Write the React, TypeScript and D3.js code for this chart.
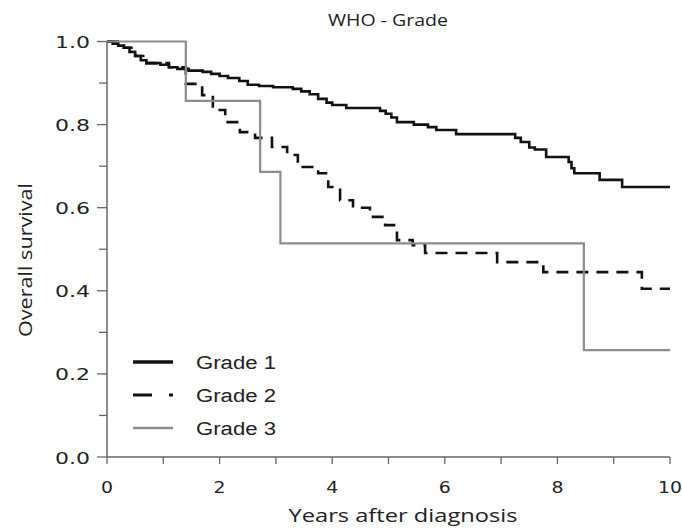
import React from 'react';
import * as d3 from 'd3';

const width = 682;
const height = 529;

// Kaplan-Meier estimates (time in years, survival)
const grade1Times = [0, 0.1, 0.2, 0.3, 0.4, 0.5, 0.6, 0.7, 0.95, 1.1, 1.25, 1.45, 1.7, 1.85, 2.0, 2.15, 2.35, 2.5, 2.7, 2.95, 3.3, 3.45, 3.6, 3.75, 3.9, 4.0, 4.25, 4.85, 4.95, 5.05, 5.15, 5.45, 5.7, 5.85, 6.2, 7.25, 7.35, 7.5, 7.6, 7.8, 8.2, 8.25, 8.3, 8.75, 9.15, 10];
const grade1Surv = [1.0, 0.995, 0.99, 0.985, 0.975, 0.965, 0.955, 0.948, 0.944, 0.938, 0.934, 0.93, 0.927, 0.922, 0.917, 0.912, 0.905, 0.896, 0.893, 0.89, 0.886, 0.88, 0.873, 0.862, 0.853, 0.847, 0.84, 0.833, 0.826, 0.817, 0.806, 0.8, 0.794, 0.787, 0.777, 0.768, 0.758, 0.745, 0.74, 0.722, 0.71, 0.695, 0.683, 0.667, 0.65, 0.65];

const grade2Times = [0, 0.3, 0.5, 0.7, 1.1, 1.4, 1.69, 1.88, 2.1, 2.36, 2.63, 2.93, 3.2, 3.39, 3.75, 3.93, 4.14, 4.37, 4.67, 4.94, 5.15, 5.43, 5.65, 6.93, 7.75, 9.5, 10];
const grade2Surv = [1.0, 0.985, 0.965, 0.948, 0.938, 0.898, 0.871, 0.835, 0.806, 0.782, 0.768, 0.746, 0.727, 0.698, 0.683, 0.65, 0.618, 0.6, 0.578, 0.558, 0.522, 0.51, 0.491, 0.469, 0.445, 0.405, 0.405];

const grade3Times = [0, 1.4, 2.72, 3.08, 8.47, 10];
const grade3Surv = [1.0, 0.857, 0.686, 0.514, 0.257, 0.257];

const legendLabels = ['Grade 1', 'Grade 2', 'Grade 3'];
const xMajor = [0, 2, 4, 6, 8, 10];
const xMinor = [1, 3, 5, 7, 9];
const yMajor = [0, 0.2, 0.4, 0.6, 0.8, 1.0];
const yMinor = [0.1, 0.3, 0.5, 0.7, 0.9];

const x = d3.scaleLinear().domain([0, 10]).range([107, 670]);
const y = d3.scaleLinear().domain([0, 1]).range([457, 41.5]);

const line = d3.line<[number, number]>()
  .x(d => x(d[0]))
  .y(d => y(d[1]))
  .curve(d3.curveStepAfter);

const zip = (t: number[], s: number[]) => t.map((v, i) => [v, s[i]] as [number, number]);

const series = [
  { name: legendLabels[0], pts: zip(grade1Times, grade1Surv), stroke: '#111', w: 2.6, dash: undefined },
  { name: legendLabels[1], pts: zip(grade2Times, grade2Surv), stroke: '#111', w: 2.6, dash: '12 8' },
  { name: legendLabels[2], pts: zip(grade3Times, grade3Surv), stroke: '#8c8c8c', w: 2.2, dash: undefined },
];

const axisColor = '#666';
const textColor = '#222';
const calibri = 'Open Sans, Lato, sans-serif';

export default function App() {
  return (
    <svg width={width} height={height}
      style={{ position: 'absolute', left: 0, top: 0, background: '#fff' }}>
      {/* title */}
      <text x={388} y={26} textAnchor="middle" fontFamily={calibri} fontSize={16}
        textLength={120} lengthAdjust="spacingAndGlyphs" fill={textColor}>WHO - Grade</text>

      {/* y axis */}
      <line x1={x(0)} x2={x(0)} y1={y(1)} y2={y(0)} stroke={axisColor} strokeWidth={1.5} />
      {yMajor.concat(yMinor).map(t => (
        <line key={'yt' + t} x1={yMajor.includes(t) ? 97 : 99} x2={x(0)} y1={y(t)} y2={y(t)}
          stroke={axisColor} strokeWidth={1.3} />
      ))}
      {yMajor.map(t => (
        <text key={'yl' + t} x={90} y={y(t) + 6.5} textAnchor="end" fontFamily="DejaVu Sans"
          fontSize={16} textLength={35} lengthAdjust="spacingAndGlyphs" fill={textColor}>
          {t.toFixed(1)}
        </text>
      ))}
      <text transform={`translate(32, 260) rotate(-90)`} textAnchor="middle" fontFamily={calibri}
        fontSize={18} textLength={154} lengthAdjust="spacingAndGlyphs" fill={textColor}>
        Overall survival
      </text>

      {/* x axis */}
      <line x1={x(0)} x2={x(10)} y1={y(0)} y2={y(0)} stroke={axisColor} strokeWidth={1.5} />
      {xMajor.concat(xMinor).map(t => (
        <line key={'xt' + t} x1={x(t)} x2={x(t)} y1={y(0)} y2={y(0) + 7}
          stroke={axisColor} strokeWidth={1.3} />
      ))}
      {xMajor.map(t => (
        <text key={'xl' + t} x={x(t)} y={493} textAnchor="middle" fontFamily="DejaVu Sans"
          fontSize={16} textLength={12 * String(t).length} lengthAdjust="spacingAndGlyphs" fill={textColor}>
          {t}
        </text>
      ))}
      <text x={403} y={522} textAnchor="middle" fontFamily={calibri} fontSize={18}
        textLength={229} lengthAdjust="spacingAndGlyphs" fill={textColor}>Years after diagnosis</text>

      {/* curves */}
      {series.map(s => (
        <path key={s.name} d={line(s.pts) ?? ''} fill="none" stroke={s.stroke}
          strokeWidth={s.w} strokeDasharray={s.dash} />
      ))}

      {/* legend */}
      {series.map((s, i) => {
        const ly = 362 + i * 33;
        return (
          <g key={'lg' + s.name}>
            <line x1={133} x2={173} y1={ly} y2={ly} stroke={s.stroke}
              strokeWidth={i === 0 ? 3.5 : s.w + 0.4}
              strokeDasharray={i === 1 ? '19 17 4 100' : undefined} />
            <text x={196} y={ly + 6.5} fontFamily="Liberation Sans, Arial, sans-serif" fontSize={18}
              textLength={80} lengthAdjust="spacingAndGlyphs" fill={textColor}>{s.name}</text>
          </g>
        );
      })}
    </svg>
  );
}
